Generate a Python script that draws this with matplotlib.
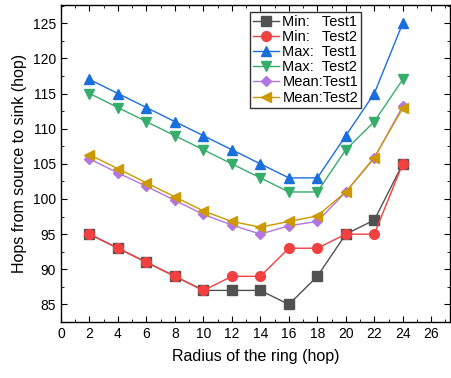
import matplotlib
matplotlib.use("Agg")
import matplotlib.pyplot as plt
from matplotlib.ticker import MultipleLocator

plt.rcParams['font.family'] = ['Liberation Sans', 'DejaVu Sans']

radius = [2, 4, 6, 8, 10, 12, 14, 16, 18, 20, 22, 24]

min_test1 = [95, 93, 91, 89, 87, 87, 87, 85, 89, 95, 97, 105]
min_test2 = [95, 93, 91, 89, 87, 89, 89, 93, 93, 95, 95, 105]
max_test1 = [117, 115, 113, 111, 109, 107, 105, 103, 103, 109, 115, 125]
max_test2 = [115, 113, 111, 109, 107, 105, 103, 101, 101, 107, 111, 117]
mean_test1 = [105.7, 103.7, 101.8, 99.8, 97.8, 96.3, 95.0, 96.2, 96.8, 101.0, 105.8, 113.2]
mean_test2 = [106.3, 104.3, 102.3, 100.3, 98.3, 96.8, 96.0, 96.8, 97.6, 101.0, 105.9, 112.9]

series = [
    ("Min:   Test1", min_test1, "#515151", "s"),
    ("Min:   Test2", min_test2, "#F14040", "o"),
    ("Max:  Test1", max_test1, "#1A6FDF", "^"),
    ("Max:  Test2", max_test2, "#37AD6B", "v"),
    ("Mean:Test1", mean_test1, "#B177DE", "D"),
    ("Mean:Test2", mean_test2, "#CC9900", "<"),
]

fig = plt.figure(figsize=(4.52, 3.78), dpi=100)
ax = fig.add_axes([0.135, 0.148, 0.86, 0.839])

for label, vals, color, marker in series:
    ms = 5.5 if marker == "D" else 7
    ax.plot(radius, vals, color=color, marker=marker, markersize=ms,
            linewidth=1.0, label=label)

ax.set_xlim(0, 27.3)
ax.set_ylim(82.5, 127.6)
ax.xaxis.set_major_locator(MultipleLocator(2))
ax.xaxis.set_minor_locator(MultipleLocator(1))
ax.yaxis.set_major_locator(MultipleLocator(5))
ax.yaxis.set_minor_locator(MultipleLocator(2.5))
ax.tick_params(which='both', direction='in', top=True, right=True, labelsize=10)
ax.tick_params(which='major', length=4)
ax.tick_params(which='minor', length=2)
for s in ax.spines.values():
    s.set_linewidth(1.0)

ax.set_xlabel("Radius of the ring (hop)", fontsize=11.5, labelpad=6)
ax.set_ylabel("Hops from source to sink (hop)", fontsize=11.5, labelpad=4)

leg = ax.legend(loc='upper left', bbox_to_anchor=(0.487, 0.978), fontsize=10.5,
                frameon=True, fancybox=False, edgecolor='black',
                borderpad=0.2, labelspacing=0.08, handlelength=1.8,
                handletextpad=0.2, borderaxespad=0)
leg.get_frame().set_linewidth(1.0)

fig.savefig("out.png", dpi=100)
